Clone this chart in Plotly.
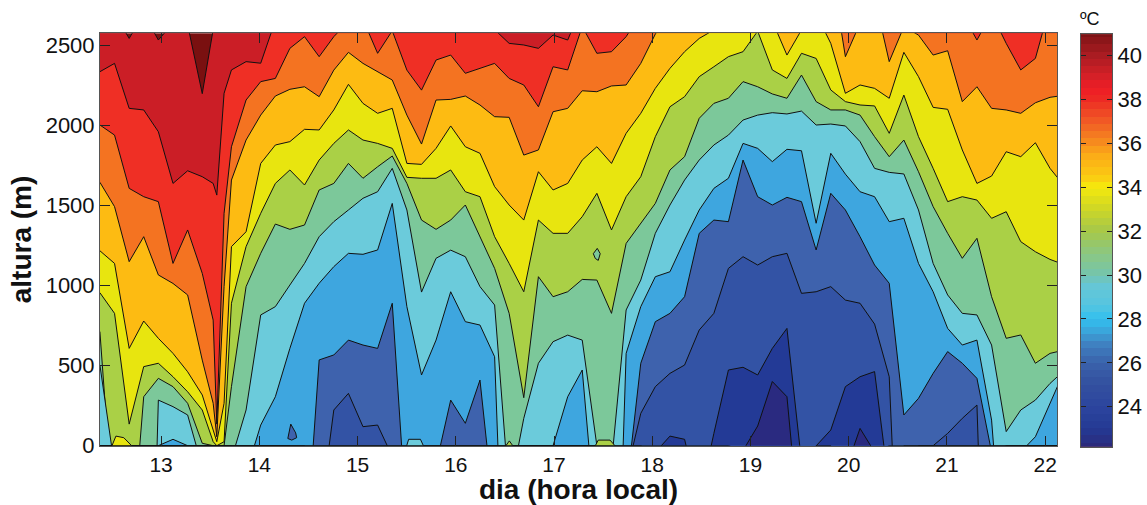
import plotly.graph_objects as go

W, H = 1147, 505

# time of each sounding (day of month, local time)
dia = [12.377, 12.526, 12.675, 12.823, 12.972, 13.121, 13.270, 13.419, 13.530, 13.567, 13.641,
       13.716, 13.865, 14.014, 14.163, 14.311, 14.460, 14.609, 14.758, 14.907, 15.055,
       15.204, 15.353, 15.502, 15.651, 15.799, 15.948, 16.097, 16.246, 16.395, 16.543,
       16.692, 16.841, 16.990, 17.139, 17.287, 17.436, 17.585, 17.734, 17.883, 18.031,
       18.180, 18.329, 18.478, 18.627, 18.775, 18.924, 19.073, 19.222, 19.371, 19.519,
       19.668, 19.817, 19.966, 20.115, 20.263, 20.412, 20.561, 20.710, 20.859, 21.007,
       21.156, 21.305, 21.454, 21.603, 21.751, 21.900, 22.049, 22.198]

# height (m) of each isotherm at each sounding; values above 2577 m or below 0 m lie off the chart
iso_40_0 = [2750, 2700, 2545, 2700, 2535, 2640, 2630, 2200, 2600, 2800, 2800] + [2800] * 58
iso_38_6 = [2337, 2389, 2108, 2098, 1962, 1639, 1718, 1681, 1639, 1566, 2202,
            2348, 2400, 2390, 2656] + [2800] * 14 + [2600, 2514, 2504, 2483, 2566, 2535, 2750] + [2800] * 33
iso_37_2 = [2004, 1941, 1608, 1556, 1525, 1139, 1348, 1077, 785, 135, 1452,
            1868, 2160, 2275, 2295, 2483, 2556, 2431, 2556, 2650, 2664, 2452, 2593, 2347, 2222,
            2410, 2441, 2327, 2358, 2389, 2295, 2254, 2118, 2368, 2348, 2620, 2452, 2462, 2556, 2700] + [2800] * 21 + [
            2700, 2535, 2700, 2514, 2348, 2420, 2750, 2750]
iso_35_8 = [1646, 1494, 1150, 1306, 1067, 1014, 942, 535, 265, 56, 994,
            1660, 1910, 2066, 2185, 2227, 2243, 2181, 2347, 2458, 2389, 2337, 2285, 2066, 1885,
            2160, 2164, 2185, 2129, 2056, 2052, 1816, 1848, 2087, 2108, 2218, 2212, 2248, 2254,
            2389, 2572, 2700] + [2800] * 10 + [3000, 2431, 2640, 2800, 2400, 2618, 2566, 2441, 2468,
            2150, 2243, 2108, 2098, 2077, 2143, 2177, 2190]
iso_34_4 = [1218, 1139, 608, 779, 671, 577, 462, 317, 98, 25, 265,
            1244, 1337, 1764, 1879, 1900, 1977, 1973, 2098, 2258, 2139, 2077, 2108, 1764, 1758,
            1858, 1998, 1868, 1827, 1619, 1504, 1410, 1712, 1598, 1639, 1785, 1868, 1764, 1952,
            2077, 2233, 2358, 2462, 2545, 2598, 2700, 2700, 2700, 2654, 2441, 2598, 2700, 2514,
            2202, 2254, 2233, 2171, 2458, 2306, 2114, 2102, 1848, 1639, 1685, 1837, 1806, 1893, 1733, 1620]
iso_33_0 = [956, 827, 135, 494, 515, 431, 337, 223, 25, 0, 25,
            890, 1244, 1452, 1639, 1723, 1629, 1785, 1889, 1973, 1910, 1889, 1858, 1677, 1671,
            1671, 1723, 1587, 1556, 1306, 1139, 962, 1410, 1327, 1327, 1431, 1577, 1348, 1556,
            1681, 1931, 2118, 2181, 2306, 2368, 2431, 2462, 2590, 2348, 2295, 2452, 2420, 2223,
            2150, 2129, 2123, 1952, 2191, 1931, 1733, 1525, 1556, 1535, 1421, 1462, 1275, 1212, 1164, 1130]
iso_31_6 = [713, -542, -816, 306, 421, 369, 265, 15, 0, 0, 0,
            369, 994, 1202, 1385, 1352, 1379, 1598, 1639, 1764, 1671, 1743, 1810, 1639, 1410,
            1352, 1410, 1504, 1306, 1108, 827, 300, 1056, 931, 962, 1039, 1035, 827, 1264,
            1389, 1514, 1723, 1806, 2046, 2139, 2171, 2275, 2243, 2198, 2171, 2316, 2150, 2098,
            2098, 2066, 1931, 1806, 1910, 1712, 1494, 1327, 1171, 1296, 931, 671, 692, 515, 577, 598]
iso_30_2 = [504, -130, 0, -3000, 285, 244, 192, -133, 0, 0, 0,
            -84, 223, 817, 869, 1004, 1139, 1306, 1400, 1473, 1546, 1587, 1733, 1473, 960,
            1171, 1222, 1181, 994, 879, -300, 171, 515, 650, 691, 660, 0, -109, 848,
            1035, 1327, 1504, 1660, 1785, 1879, 1941, 2035, 2066, 2081, 2073, 2091, 2004, 2010,
            1998, 1900, 1733, 1708, 1698, 1473, 1139, 942, 827, 817, 629, 88, 223, 285, 389, 473]
iso_28_8 = [0, 0, 0, 0, 0, 40, 0, 0, 0, 0, 0,
            0, -170, 129, 306, 608, 890, 1015, 1119, 1202, 1196, 1223, 1514, 869, 442,
            660, 962, 775, 754, 556, -1890, 0, 0, 0, 306, 473, -568, -2244, 577,
            869, 1056, 1087, 1285, 1473, 1608, 1671, 1889, 1858, 1775, 1852, 1843, 1390, 1827,
            1697, 1587, 1556, 1400, 1421, 1139, 962, 733, 629, 660, 160, -1013, -39, 56, 265, 473]
iso_27_4 = [0] * 11 + [0] * 5 + [-774, 536, 567, 660, 629, 608, 890, -500, 0, -120, 285, 140, 410, -449] + [0] * 8 + [
            -294, 515, 775, 827, 931, 1327, 1410, 1400, 1785, 1556, 1504, 1552, 1525, 1223, 1577,
            1473, 1306, 1129, 1015, 192, 296, 452, 588, 515, 421, -40] + [0] * 5
iso_26_0 = [0] * 11 + [0] * 6 + [-478, 223, 327, 119, 129, -67] + [0] * 15 + [
            -184, 202, 369, 452, 504, 723, 827, 1108, 1181, 1129, 1181, 1202, 952, 962, 994,
            910, 890, 760, 431, -1676, 0, 0, 77, 171, 254, -2540] + [0] * 5
iso_24_6 = [0] * 11 + [0] * 29 + [-41, 60, 40, -346, 77, 473, 490, 442, 608, 733, -100, 0, 98, 369, 431, 463, -265] + [0] * 12
iso_23_2 = [0] * 11 + [0] * 35 + [-30, 123, 401, 306, -655, 0, 0, -156, 108, -40] + [0] * 13

isotherms = [iso_40_0, iso_38_6, iso_37_2, iso_35_8, iso_34_4, iso_33_0, iso_31_6,
             iso_30_2, iso_28_8, iso_27_4, iso_26_0, iso_24_6, iso_23_2]
# colour of the band lying below each isotherm
band_colors = ["#cb1e26", "#ef2f25", "#f47321", "#fdbb12", "#e8e50f", "#aad046", "#7cc89a",
               "#6bcbdb", "#3ea6df", "#3e62ad", "#3353a5", "#233a96", "#2a2a80"]
hottest_band = "#7a1010"

# small closed pockets that break the layering: (days, heights, colour)
pocket_a_x = [12.50, 12.54, 12.62, 12.70, 12.50]
pocket_a_y = [0, 60, 50, 0, 0]
pocket_b_x = [14.29, 14.32, 14.37, 14.38, 14.33, 14.29]
pocket_b_y = [45, 135, 80, 50, 35, 45]
pocket_c_x = [15.50, 15.52, 15.64, 15.67, 15.50]
pocket_c_y = [0, 40, 40, 0, 0]
pocket_d_x = [17.40, 17.44, 17.47, 17.45, 17.42, 17.40]
pocket_d_y = [1200, 1233, 1200, 1158, 1170, 1200]
pocket_e_x = [17.42, 17.45, 17.57, 17.62, 17.42]
pocket_e_y = [0, 35, 35, 0, 0]
pocket_f_x = [16.51, 16.545, 16.58, 16.51]
pocket_f_y = [0, 30, 0, 0]
pockets = [(pocket_a_x, pocket_a_y, "#e8e50f"), (pocket_b_x, pocket_b_y, "#3e62ad"),
           (pocket_c_x, pocket_c_y, "#6bcbdb"), (pocket_d_x, pocket_d_y, "#7cc89a"),
           (pocket_e_x, pocket_e_y, "#aad046"), (pocket_f_x, pocket_f_y, "#aad046")]

# colour bar
cb_temps = [22.2 + 0.33 * i for i in range(58)]
cb_stops = [(22.2, "#2a2a7c"), (23.0, "#243a94"), (24.0, "#2c459e"), (25.0, "#33509f"),
            (26.0, "#3a62ab"), (26.8, "#3f80c0"), (27.5, "#3aa8dd"), (28.0, "#32c0ee"),
            (28.6, "#55c5e0"), (29.5, "#66c6d6"), (30.0, "#74c5ae"), (31.0, "#8cc780"),
            (32.0, "#a6c84a"), (33.0, "#cdd626"), (34.0, "#f5ea0c"), (34.5, "#fbc913"),
            (35.5, "#fbaa17"), (36.0, "#f68d1e"), (37.0, "#f15a25"), (38.0, "#ed2a24"),
            (38.5, "#ef1c25"), (39.0, "#d62027"), (40.0, "#ab1c22"), (41.0, "#7d1315")]

x_ticks = [13, 14, 15, 16, 17, 18, 19, 20, 21, 22]
y_ticks = [0, 500, 1000, 1500, 2000, 2500]
cb_ticks = [24, 26, 28, 30, 32, 34, 36, 38, 40]

for iso in isotherms:
    assert len(iso) == len(dia), len(iso)

fig = go.Figure()
for iso, col in zip(isotherms, band_colors):
    fig.add_trace(go.Scatter(x=dia, y=iso, mode="lines", fill="tozeroy", fillcolor=col,
                             line=dict(color="#111111", width=1), hoverinfo="skip", showlegend=False))
for px_, py_, col in pockets:
    fig.add_trace(go.Scatter(x=px_, y=py_, mode="lines", fill="toself", fillcolor=col,
                             line=dict(color="#111111", width=1), hoverinfo="skip", showlegend=False))

lo, hi = cb_stops[0][0], cb_stops[-1][0]
fig.add_trace(go.Heatmap(x=[0], y=cb_temps, z=[[t] for t in cb_temps], xaxis="x2", yaxis="y2",
                         zmin=lo, zmax=hi, showscale=False, hoverinfo="skip",
                         colorscale=[[(t - lo) / (hi - lo), c] for t, c in cb_stops]))

font = dict(family="Liberation Sans, Arial, sans-serif", color="#111111")
axis_common = dict(ticks="inside", ticklen=10, tickwidth=1, tickcolor="#222222", showgrid=False,
                   zeroline=False, showline=True, linecolor="#555555", linewidth=1, mirror="ticks",
                   automargin=False)
fig.update_layout(
    template="none",
    width=W, height=H, autosize=False, margin=dict(l=0, r=0, t=0, b=0),
    paper_bgcolor="white", plot_bgcolor=hottest_band, showlegend=False,
    xaxis=dict(domain=[100 / W, 1057 / W], range=[12.378, 22.12], tickvals=x_ticks,
               tickfont=dict(size=21, **font),
               title=dict(text="<b>dia (hora local)</b>", font=dict(size=28, **font), standoff=11), **axis_common),
    yaxis=dict(domain=[1 - 445.7 / H, 1 - 33.3 / H], range=[0, 2577], tickvals=y_ticks,
               tickfont=dict(size=22, **font),
               title=dict(text="<b>altura (m)</b>", font=dict(size=28, **font), standoff=5), **axis_common),
    xaxis2=dict(domain=[1080.5 / W, 1112 / W], range=[-0.5, 0.5], showticklabels=False, ticks="",
                showgrid=False, zeroline=False, showline=True, linecolor="#555555", mirror=True, anchor="y2"),
    yaxis2=dict(domain=[1 - 446.7 / H, 1 - 34.3 / H], range=[22.18, 40.97], tickvals=cb_ticks, side="right",
                anchor="x2", ticks="inside", ticklen=5, tickcolor="#222222", showgrid=False, zeroline=False,
                showline=True, linecolor="#555555", mirror="ticks", automargin=False,
                tickfont=dict(size=22, **font)),
    annotations=[dict(text="ºC", x=1090 / W, y=1 - 19 / H, xref="paper", yref="paper", showarrow=False,
                      xanchor="center", yanchor="middle", font=dict(size=18, **font))],
)
fig.write_html("out.html", config={"displayModeBar": False},
               post_script="document.body.style.margin='0';document.body.style.overflow='hidden';")
